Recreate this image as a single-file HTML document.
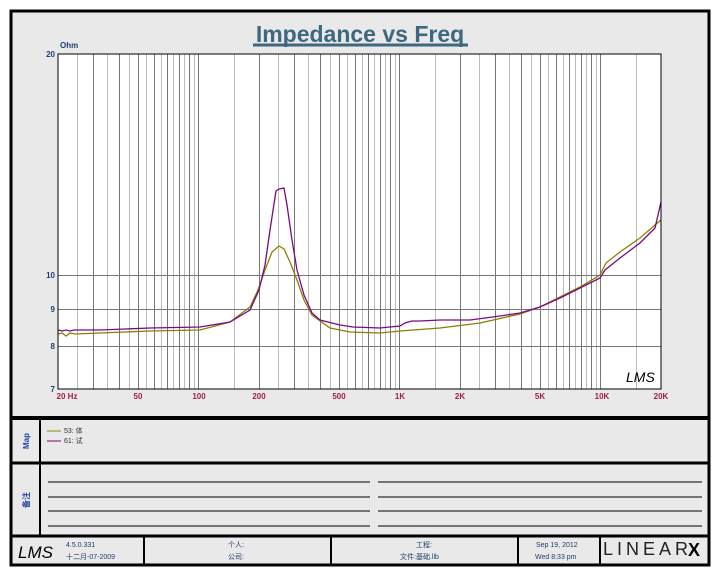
<!DOCTYPE html>
<html><head><meta charset="utf-8"><style>
html,body{margin:0;padding:0;background:#fff}
svg{display:block}
text{font-family:"Liberation Sans","Noto Sans CJK SC",sans-serif}
</style></head><body>
<svg id="s" width="720" height="576" viewBox="0 0 720 576" xmlns="http://www.w3.org/2000/svg">
<rect x="0" y="0" width="720" height="576" fill="#fff"/>
<rect x="11" y="11" width="698" height="554" fill="#e9e9e9" stroke="#000" stroke-width="3"/>
<text x="360" y="42" text-anchor="middle" font-size="23" font-weight="bold" fill="#3d6880">Impedance vs Freq</text>
<line x1="253" y1="45" x2="468" y2="45" stroke="#3d6880" stroke-width="3"/>
<rect x="58" y="54" width="603" height="335" fill="#fff"/>
<g id="grid"></g>
<g id="curves" fill="none" stroke-width="1.3"></g>
<rect x="58" y="54" width="603" height="335" fill="none" stroke="#000" stroke-width="1"/>
<text x="60" y="48" font-size="8" fill="#1f3f6f" font-weight="bold">Ohm</text>
<g font-size="8" fill="#1f3f6f" font-weight="bold" text-anchor="end">
<text x="55" y="57">20</text><text x="55" y="278">10</text><text x="55" y="312">9</text><text x="55" y="349">8</text><text x="55" y="392">7</text>
</g>
<g font-size="8" fill="#a0204a" font-weight="bold" text-anchor="middle">
<text x="67" y="399">20  Hz</text><text x="138" y="399">50</text><text x="199" y="399">100</text><text x="259" y="399">200</text><text x="339" y="399">500</text><text x="400" y="399">1K</text><text x="460" y="399">2K</text><text x="540" y="399">5K</text><text x="602" y="399">10K</text><text x="661" y="399">20K</text>
</g>
<text x="626" y="382" font-size="14" font-style="italic" fill="#000" font-family="Liberation Serif,serif">LMS</text>
<line x1="11" y1="418" x2="709" y2="418" stroke="#000" stroke-width="4"/>
<line x1="11" y1="463" x2="709" y2="463" stroke="#000" stroke-width="3"/>
<line x1="11" y1="536" x2="709" y2="536" stroke="#000" stroke-width="3"/>
<line x1="40" y1="418" x2="40" y2="536" stroke="#000" stroke-width="2"/>
<text transform="translate(29,441) rotate(-90)" font-size="8" fill="#1f3f9f" font-weight="bold" text-anchor="middle">Map</text>
<text transform="translate(29,500) rotate(-90)" font-size="8" fill="#1f3f9f" font-weight="bold" text-anchor="middle">备注</text>
<line x1="47" y1="431" x2="61" y2="431" stroke="#8a8a00"/>
<line x1="47" y1="441" x2="61" y2="441" stroke="#800080"/>
<text x="64" y="433" font-size="7" fill="#333">53: 体</text>
<text x="64" y="443" font-size="7" fill="#333">61: 试</text>
<g stroke="#000" stroke-width="1">
<line x1="48" y1="482" x2="370" y2="482"/><line x1="378" y1="482" x2="702" y2="482"/>
<line x1="48" y1="497" x2="370" y2="497"/><line x1="378" y1="497" x2="702" y2="497"/>
<line x1="48" y1="511" x2="370" y2="511"/><line x1="378" y1="511" x2="702" y2="511"/>
<line x1="48" y1="526" x2="370" y2="526"/><line x1="378" y1="526" x2="702" y2="526"/>
</g>
<g stroke="#000" stroke-width="2">
<line x1="144" y1="536" x2="144" y2="565"/><line x1="331" y1="536" x2="331" y2="565"/>
<line x1="518" y1="536" x2="518" y2="565"/><line x1="600" y1="536" x2="600" y2="565"/>
</g>
<text x="18" y="558" font-size="17" font-style="italic" fill="#000" font-family="Liberation Serif,serif">LMS</text>
<g font-size="7" fill="#1f3f6f">
<text x="66" y="547">4.5.0.331</text><text x="66" y="559">十二月-07-2009</text>
<text x="228" y="547">个人:</text><text x="228" y="559">公司:</text>
<text x="416" y="547">工程:</text><text x="400" y="559">文件:基础.llb</text>
<text x="536" y="547">Sep 19, 2012</text><text x="535" y="559">Wed  8:33 pm</text>
</g>
<text x="603" y="555" font-size="18" fill="#222" font-family="Liberation Serif,serif" letter-spacing="4">LINEAR</text>
<text x="688" y="556" font-size="18" font-weight="bold" fill="#000">X</text>
</svg>
<script>
var g=document.getElementById('grid'),ns='http://www.w3.org/2000/svg';
function X(f){return 58+201*Math.log10(f/20);}
[10,100,1000,10000].forEach(function(d){for(var m=1;m<10;m+=0.5){var f=d*m;if(f<=20||f>=20000)continue;
var l=document.createElementNS(ns,'line');var x=Math.round(X(f))+0.5;l.setAttribute('x1',x);l.setAttribute('x2',x);l.setAttribute('y1',54);l.setAttribute('y2',389);
l.setAttribute('stroke',(m%1==0)?'#777':'#bbb');g.appendChild(l);}});
[275,309,346].forEach(function(y){var l=document.createElementNS(ns,'line');l.setAttribute('x1',58);l.setAttribute('x2',661);l.setAttribute('y1',y+.5);l.setAttribute('y2',y+.5);l.setAttribute('stroke','#777');g.appendChild(l);});
var P=[[58,330],[62,331],[66,330],[70,331],[74,330],[80,330],[100,330],[150,328],[200,327],[230,322],[250,310],[259,290],[265,265],[270,230],[276,191],[279,189],[284,188],[287,205],[292,240],[297,270],[304,295],[312,313],[320,320],[340,325],[353,327],[380,328],[400,326],[405,323],[412,321],[420,321],[440,320],[470,320],[500,316],[520,313],[540,307],[560,298],[580,288],[600,278],[605,270],[620,258],[640,243],[650,233],[655,228],[658,215],[661,202]];
var Y=[[58,334],[62,333],[66,336],[70,333],[75,334],[100,333],[150,331],[200,330],[230,322],[250,307],[258,290],[265,270],[272,252],[279,246],[284,249],[290,262],[297,280],[304,300],[312,315],[330,328],[350,332],[380,333],[400,331],[440,328],[480,323],[520,314],[540,307],[560,297],[580,287],[600,275],[606,263],[620,252],[640,238],[655,225],[661,220]];
var c=document.getElementById('curves');
[[Y,'#8a8000'],[P,'#7a0a80']].forEach(function(s){var p=document.createElementNS(ns,'polyline');p.setAttribute('points',s[0].map(function(a){return a.join(',')}).join(' '));p.setAttribute('stroke',s[1]);c.appendChild(p);});
</script>
</body></html>
